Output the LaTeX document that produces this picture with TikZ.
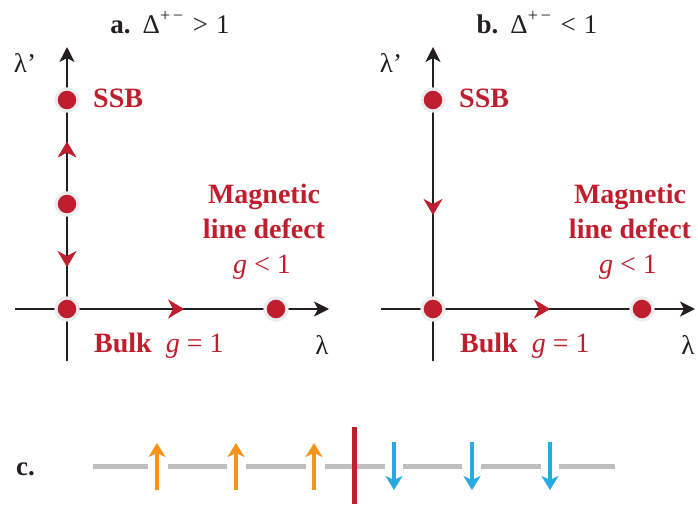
\documentclass[tikz,border=0pt]{standalone}
\usepackage{fontspec}
\setmainfont{Liberation Serif}
\usetikzlibrary{arrows.meta,decorations.markings}
\definecolor{dred}{HTML}{BE1E2D}
\definecolor{ink}{HTML}{231F20}
\definecolor{halo}{HTML}{ECECEF}
\definecolor{sgrey}{HTML}{BCBEC0}
\definecolor{sorange}{HTML}{F7941D}
\definecolor{sblue}{HTML}{27AAE1}
\newcommand{\pmsup}{\raisebox{0.42em}{\fontsize{18}{18}\selectfont +\,−}}
\begin{document}
\begin{tikzpicture}[x=1pt,y=-1pt,
  axis/.style={line width=1.4pt, draw=ink, -{Stealth[length=15pt,width=15pt,inset=4pt]}},
  fp/.style={circle, fill=dred, draw=halo, line width=3.2pt, minimum size=22pt, inner sep=0pt},
  flow/.style={postaction=decorate, decoration={markings, mark=at position #1 with {\arrow{Stealth[length=16pt,width=19pt,inset=5pt,color=dred]}}}},
  lab/.style={text=dred, font=\fontsize{28}{30}\selectfont, inner sep=0pt},
  blab/.style={lab, font=\fontsize{28}{30}\selectfont\bfseries},
  ttl/.style={text=ink, font=\fontsize{27}{30}\selectfont, inner sep=0pt},
  axlab/.style={text=ink, font=\fontsize{27}{30}\selectfont, inner sep=0pt},
  chain/.style={draw=sgrey, line width=5pt},
  spinup/.style={draw=sorange, line width=4pt, -{Stealth[length=14pt,width=17pt,inset=4pt]}},
  spindown/.style={draw=sblue, line width=4pt, -{Stealth[length=14pt,width=17pt,inset=4pt]}}
]
\useasboundingbox (0,0) rectangle (698,504);

% ---------- panel a ----------
\coordinate (aB) at (67,361);
\coordinate (aT) at (67,47);
\coordinate (aL) at (15,309);
\coordinate (aR) at (329,309);
\draw[axis] (aB) -- (aT);
\draw[axis] (aL) -- (aR);
\node[fp] (aS) at (67,100) {};
\node[fp] (aM) at (67,204) {};
\node[fp] (aO) at (67,309) {};
\node[fp] (aD) at (276,309) {};
\path[flow=0.6] (aM.center) -- (aS.center);
\path[flow=0.6] (aM.center) -- (aO.center);
\path[flow=0.56] (aO.center) -- (aD.center);

\node[ttl, anchor=base] (ta) at (170,33) {\textbf{a.}\hspace{0.45em}Δ\pmsup\hspace{0.35em}>\hspace{0.3em}1};
\node[axlab, anchor=base] (alp) at (25,72) {λ’};
\node[axlab, anchor=base] (al) at (322,354) {λ};
\node[blab, anchor=base west] (assb) at (93,107) {SSB};
\node[blab, anchor=base] (am1) at (264,203) {Magnetic};
\node[blab, anchor=base] (am2) at (264,238) {line defect};
\node[lab, anchor=base] (am3) at (262,273) {\textit{g} < 1};
\node[lab, anchor=base west] (ab) at (94,352) {\textbf{Bulk}\enspace\textit{g} = 1};

% ---------- panel b ----------
\coordinate (bB) at (433,361);
\coordinate (bT) at (433,47);
\coordinate (bL) at (381,309);
\coordinate (bR) at (695,309);
\draw[axis] (bB) -- (bT);
\draw[axis] (bL) -- (bR);
\node[fp] (bS) at (433,100) {};
\node[fp] (bO) at (433,309) {};
\node[fp] (bD) at (642,309) {};
\path[flow=0.55] (bS.center) -- (bO.center);
\path[flow=0.56] (bO.center) -- (bD.center);

\node[ttl, anchor=base] (tb) at (537,33) {\textbf{b.}\hspace{0.45em}Δ\pmsup\hspace{0.35em}<\hspace{0.3em}1};
\node[axlab, anchor=base] (blp) at (391,72) {λ’};
\node[axlab, anchor=base] (bl) at (688,354) {λ};
\node[blab, anchor=base west] (bssb) at (459,107) {SSB};
\node[blab, anchor=base] (bm1) at (630,203) {Magnetic};
\node[blab, anchor=base] (bm2) at (630,238) {line defect};
\node[lab, anchor=base] (bm3) at (628,273) {\textit{g} < 1};
\node[lab, anchor=base west] (bb) at (460,352) {\textbf{Bulk}\enspace\textit{g} = 1};

% ---------- panel c ----------
\node[ttl, font=\fontsize{27}{30}\selectfont\bfseries, anchor=base west] (tc) at (16,475) {c.};
\draw[chain] (93,466) -- (148,466);
\draw[chain] (168,466) -- (227,466);
\draw[chain] (246,466) -- (306,466);
\draw[chain] (325,466) -- (385,466);
\draw[chain] (403,466) -- (462,466);
\draw[chain] (481,466) -- (541,466);
\draw[chain] (559,466) -- (615,466);
\draw[draw=dred, line width=5pt] (354.5,427) -- (354.5,504);
\draw[spinup] (157,490) -- (157,443);
\draw[spinup] (236,490) -- (236,443);
\draw[spinup] (314,490) -- (314,443);
\draw[spindown] (394,442) -- (394,490);
\draw[spindown] (472,442) -- (472,490);
\draw[spindown] (550,442) -- (550,490);
\end{tikzpicture}
\end{document}
